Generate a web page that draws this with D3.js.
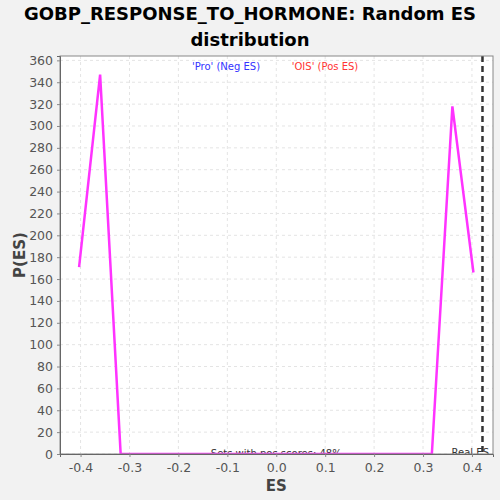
<!DOCTYPE html>
<html>
<head>
  <meta charset="utf-8">
  <script src="https://d3js.org/d3.v7.min.js"></script>
  <style>
  body { margin: 0; background: #f2f2f2; font-family: "DejaVu Sans", sans-serif; }
  </style>
</head>
<body>
<svg id="chart" width="500" height="500"></svg>
<script>
// ES bin centres and P(ES) values
var esValues = [-0.403, -0.360, -0.318, -0.276, -0.233, -0.191, -0.148, -0.106, -0.064, -0.021,
                 0.021, 0.064, 0.106, 0.148, 0.191, 0.233, 0.276, 0.318, 0.360, 0.403];
var pValues = [171, 347, 0, 0, 0, 0, 0, 0, 0, 0,
               0, 0, 0, 0, 0, 0, 0, 0, 318, 166];
var xTicks = [-0.4, -0.3, -0.2, -0.1, 0.0, 0.1, 0.2, 0.3, 0.4];
var yTicks = [0, 20, 40, 60, 80, 100, 120, 140, 160, 180, 200, 220, 240, 260, 280, 300, 320, 340, 360];
var realES = 0.4215;
var titleLines = ["GOBP_RESPONSE_TO_HORMONE: Random ES", "distribution"];

var margin = {top: 56, right: 7, bottom: 46, left: 60};
var width = 500 - margin.left - margin.right,
    height = 500 - margin.top - margin.bottom;

var svg = d3.select("#chart");
svg.append("rect").attr("width", 500).attr("height", 500).attr("fill", "#f2f2f2");

var xs = d3.scaleLinear().domain([-0.442, 0.443]).range([0, width]);
var ys = d3.scaleLinear().domain([0, 364]).range([height, 0]);

var g = svg.append("g").attr("transform", "translate(" + margin.left + "," + margin.top + ")");

svg.append("defs").append("clipPath").attr("id", "clip")
  .append("rect").attr("width", width).attr("height", height);

g.append("rect").attr("width", width).attr("height", height).attr("fill", "white");

// grid
g.selectAll(".hgrid").data(yTicks).enter().append("line")
  .attr("x1", 0).attr("x2", width)
  .attr("y1", function(d){ return ys(d); }).attr("y2", function(d){ return ys(d); })
  .attr("stroke", "#e4e4e4").attr("stroke-dasharray", "3,3");
g.selectAll(".vgrid").data(xTicks).enter().append("line")
  .attr("y1", 0).attr("y2", height)
  .attr("x1", function(d){ return xs(d); }).attr("x2", function(d){ return xs(d); })
  .attr("stroke", "#e4e4e4").attr("stroke-dasharray", "3,3");

var inner = g.append("g").attr("clip-path", "url(#clip)");

// legend
inner.append("text").attr("x", 166).attr("y", 14)
  .attr("text-anchor", "middle").style("font-size", "10px").attr("fill", "#3333ff")
  .text("'Pro' (Neg ES)");
inner.append("text").attr("x", 265).attr("y", 14)
  .attr("text-anchor", "middle").style("font-size", "10px").attr("fill", "#ff3333")
  .text("'OIS' (Pos ES)");

inner.append("text").attr("x", xs(0)).attr("y", height + 3)
  .attr("text-anchor", "middle").style("font-size", "10px").attr("fill", "#333")
  .text("Sets with pos scores: 48%");
inner.append("text").attr("x", width - 4).attr("y", height + 2)
  .attr("text-anchor", "end").style("font-size", "10px").attr("fill", "#333")
  .text("Real ES");

// real ES marker
inner.append("line")
  .attr("x1", xs(realES)).attr("x2", xs(realES)).attr("y1", 0).attr("y2", height)
  .attr("stroke", "#333").attr("stroke-width", 2.5).attr("stroke-dasharray", "6,4");

// distribution line
var pts = esValues.map(function(d, i){ return [d, pValues[i]]; });
inner.append("path").datum(pts)
  .attr("fill", "none").attr("stroke", "#ff33ff").attr("stroke-width", 2.5)
  .attr("d", d3.line().x(function(d){ return xs(d[0]); }).y(function(d){ return ys(d[1]); }));

// frame
g.append("rect").attr("width", width).attr("height", height)
  .attr("fill", "none").attr("stroke", "#888");

// axes
var yAxis = g.append("g").call(d3.axisLeft(ys).tickValues(yTicks).tickSize(3).tickPadding(4));
var xAxis = g.append("g").attr("transform", "translate(0," + height + ")")
  .call(d3.axisBottom(xs).tickValues(xTicks).tickSize(3).tickPadding(6)
    .tickFormat(function(d){ return d3.format(".1f")(d).replace("\u2212", "-"); }));
[xAxis, yAxis].forEach(function(a) {
  a.select(".domain").attr("stroke", "#666");
  a.selectAll(".tick line").attr("stroke", "#888");
  a.selectAll(".tick text").attr("fill", "#555").style("font-size", "12.5px")
    .style("font-family", "DejaVu Sans, sans-serif");
});

// titles
svg.selectAll(".title").data(titleLines).enter().append("text")
  .attr("x", 250).attr("y", function(d, i){ return 20 + i * 26; })
  .attr("text-anchor", "middle").style("font-size", "18px").style("font-weight", "bold")
  .attr("fill", "black").text(function(d){ return d; });

svg.append("text").attr("x", margin.left + xs(0)).attr("y", 491)
  .attr("text-anchor", "middle").style("font-size", "15px").style("font-weight", "bold")
  .attr("fill", "#444").text("ES");
svg.append("text").attr("transform", "translate(25,255) rotate(-90)")
  .attr("text-anchor", "middle").style("font-size", "15px").style("font-weight", "bold")
  .attr("fill", "#444").text("P(ES)");
</script>
</body>
</html>
